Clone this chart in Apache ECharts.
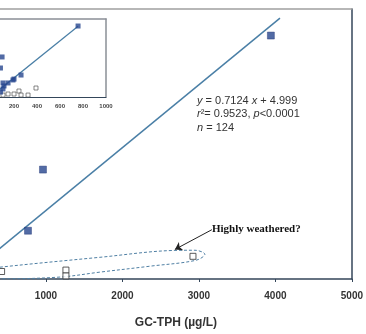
<!DOCTYPE html>
<html><head><meta charset="utf-8">
<script src="https://cdn.jsdelivr.net/npm/echarts@6/dist/echarts.min.js"></script>
<style>html,body{margin:0;padding:0;background:#fff}#c{width:366px;height:334px}</style>
</head><body><div id="c"></div>
<script>
// Main chart data (GC-TPH µg/L on x); view starts at x≈399 (chart is cropped on the left)
var xView = [399, 5000];
var xTicks = [1000, 2000, 3000, 4000, 5000];
var mainFilled = [[3941, 2699], [961, 1180], [765, 487]];
var mainOpen = [[2922, 197], [1261, 41], [1261, -25], [420, 25]];
var regLine = [[0, 5], [4060, 2897]];
var ellipse = [[7, 29], [399, 74], [1706, 186], [2686, 264], [2948, 266], [3078, 220], [2961, 152], [2359, 85], [1706, 18], [1183, -38], [399, -58], [7, -40], [7, 29]];
var arrowFrom = [3170, 499];
var arrowTo = [2686, 275];
// Inset data
var insetView = [78, 1000];
var insetTicks = [200, 400, 600, 800, 1000];
var insetFilled = [[757, 546], [261, 169], [200, 138], [191, 131], [148, 108], [104, 108], [96, 308], [82, 223], [104, 62], [82, 38], [113, 85]];
var insetOpen = [[391, 69], [243, 46], [322, 15], [261, 15], [200, 23], [148, 23], [104, 15]];
var insetLine = [[0, 5], [757, 544]];

var chart = echarts.init(document.getElementById('c'), null, {renderer: 'canvas'});
var dark = '#34465a';
var plain = function (v) { return String(v); };
var opt = {
  backgroundColor: '#fff',
  animation: false,
  grid: [
    {left: 0, right: 14, top: 9, bottom: 51, containLabel: false},
    {left: 0, right: 260, top: 19, bottom: 237, containLabel: false, show: true, backgroundColor: '#fff', borderWidth: 0}
  ],
  xAxis: [
    {gridIndex: 0, type: 'value', min: xView[0], max: xView[1],
     axisLine: {show: true, onZero: false, lineStyle: {color: dark, width: 1.5}},
     axisTick: {show: true, inside: false, length: 3, customValues: xTicks, lineStyle: {color: dark}},
     splitLine: {show: false},
     axisLabel: {margin: 12, fontSize: 10, fontWeight: 'bold', color: '#333', fontFamily: 'Liberation Sans',
                 customValues: xTicks, formatter: plain},
     name: 'GC-TPH (µg/L)', nameLocation: 'middle', nameGap: 38,
     nameTextStyle: {fontSize: 12, fontWeight: 'bold', color: '#333', fontFamily: 'Liberation Sans'}},
    {gridIndex: 0, type: 'value', position: 'top', min: xView[0], max: xView[1],
     axisLine: {show: true, onZero: false, lineStyle: {color: '#a0a0a0', width: 1.5}},
     axisTick: {show: false}, axisLabel: {show: false}, splitLine: {show: false}},
    {gridIndex: 1, type: 'value', min: insetView[0], max: insetView[1],
     axisLine: {show: true, onZero: false, lineStyle: {color: dark, width: 1}},
     axisTick: {show: false}, splitLine: {show: false},
     axisLabel: {margin: 6, fontSize: 6, fontWeight: 'bold', color: '#444', fontFamily: 'Liberation Sans',
                 customValues: insetTicks, formatter: plain}},
    {gridIndex: 1, type: 'value', position: 'top', min: insetView[0], max: insetView[1],
     axisLine: {show: true, onZero: false, lineStyle: {color: '#8a8f96', width: 1.5}},
     axisTick: {show: false}, axisLabel: {show: false}, splitLine: {show: false}}
  ],
  yAxis: [
    {gridIndex: 0, type: 'value', min: -60, max: 3000, show: false},
    {gridIndex: 0, type: 'value', position: 'right', min: -60, max: 3000,
     axisLine: {show: true, onZero: false, lineStyle: {color: dark, width: 1.5}},
     axisTick: {show: false}, axisLabel: {show: false}, splitLine: {show: false}},
    {gridIndex: 1, type: 'value', min: 0, max: 600, show: false},
    {gridIndex: 1, type: 'value', position: 'right', min: 0, max: 600,
     axisLine: {show: true, onZero: false, lineStyle: {color: '#8a8f96', width: 1.5}},
     axisTick: {show: false}, axisLabel: {show: false}, splitLine: {show: false}}
  ],
  series: [
    {type: 'line', xAxisIndex: 0, yAxisIndex: 0, data: regLine, showSymbol: false, symbol: 'none',
     lineStyle: {color: '#4a7fa6', width: 1.5}, z: 2},
    {type: 'line', xAxisIndex: 0, yAxisIndex: 0, data: ellipse, smooth: 0.35, symbol: 'none',
     lineStyle: {color: '#4f7fa3', width: 1, type: [3, 2]}, z: 2,
     markLine: {silent: true, symbol: ['none', 'arrow'], symbolSize: 7,
       lineStyle: {color: '#222', width: 1, type: 'solid'}, label: {show: false},
       data: [[{coord: arrowFrom}, {coord: arrowTo}]]}},
    {type: 'scatter', xAxisIndex: 0, yAxisIndex: 0, data: mainFilled, symbol: 'rect', symbolSize: 7,
     itemStyle: {color: '#27468f', borderColor: '#1c3070', borderWidth: 0.5}, z: 4},
    {type: 'scatter', xAxisIndex: 0, yAxisIndex: 0, data: mainOpen, symbol: 'rect', symbolSize: 6,
     itemStyle: {color: '#fff', borderColor: '#333', borderWidth: 1}, z: 4},
    {type: 'line', xAxisIndex: 2, yAxisIndex: 2, data: insetLine, symbol: 'none',
     lineStyle: {color: '#4a7fa6', width: 1.2}, z: 6},
    {type: 'scatter', xAxisIndex: 2, yAxisIndex: 2, data: insetOpen, symbol: 'rect', symbolSize: 4,
     itemStyle: {color: '#fff', borderColor: '#444', borderWidth: 0.8}, z: 7},
    {type: 'scatter', xAxisIndex: 2, yAxisIndex: 2, data: insetFilled, symbol: 'rect', symbolSize: 5,
     itemStyle: {color: '#27468f'}, z: 7}
  ],
  graphic: [
    {type: 'text', left: 197, top: 94, z: 10, style: {
      text: '{i|y} = 0.7124 {i|x} + 4.999\n{i|r}²= 0.9523, {i|p}<0.0001\n{i|n} = 124',
      font: '11px "Liberation Sans"', fill: '#333', lineHeight: 13.5,
      rich: {i: {fontStyle: 'italic', fontSize: 11, fontFamily: 'Liberation Sans', fill: '#333', color: '#333'}}}},
    {type: 'text', left: 212, top: 224, z: 10, style: {
      text: 'Highly weathered?', font: 'bold 11px "Liberation Serif"', fill: '#111'}}
  ]
};
chart.setOption(opt);
</script></body></html>
